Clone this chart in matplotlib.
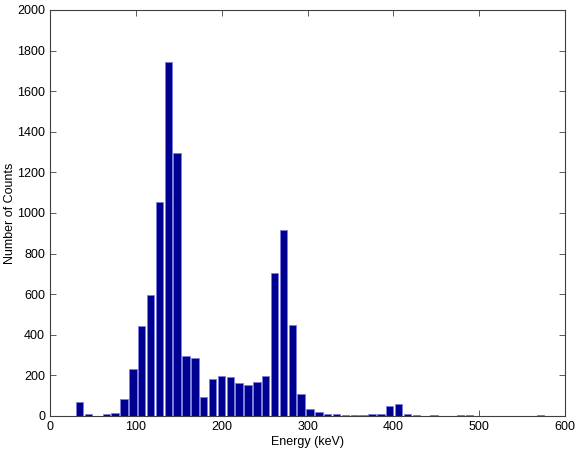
import numpy as np
import matplotlib
matplotlib.use("Agg")
import matplotlib.pyplot as plt

plt.rcParams['font.family'] = ['Liberation Sans', 'DejaVu Sans']

# histogram bins (keV): first bin centre and bin width
first_center = 34.6
bin_width = 10.32
counts = [70, 8, 2, 8, 15, 85, 230, 445, 598, 1052,
          1745, 1298, 298, 285, 95, 180, 198, 192, 165, 153,
          168, 195, 702, 918, 448, 110, 35, 22, 8, 8,
          3, 6, 5, 10, 10, 47, 60, 8, 3, 0,
          3, 0, 0, 3, 3, 0, 0, 0, 0, 0,
          0, 0, 3]
centers = first_center + bin_width * np.arange(len(counts))

fig = plt.figure(figsize=(5.88, 4.5), dpi=100)
ax = fig.add_axes([50 / 588, 1 - 416 / 450, 515 / 588, 406 / 450])

ax.bar(centers, counts, width=bin_width * 0.84, color='#000090',
       edgecolor='#7d7de0', linewidth=0.6, zorder=2)

ax.set_xlim(0, 600)
ax.set_ylim(0, 2000)
ax.set_xticks(np.arange(0, 601, 100))
ax.set_yticks(np.arange(0, 2001, 200))
ax.tick_params(direction='in', top=True, right=True, labelsize=9,
               length=4, width=0.6, color='#404040')
for s in ax.spines.values():
    s.set_color('#404040')
    s.set_linewidth(0.8)

ax.set_xlabel('Energy (keV)', fontsize=9, labelpad=2)
ax.set_ylabel('Number of Counts', fontsize=9, labelpad=0.5)

fig.savefig('out.png', dpi=100)
